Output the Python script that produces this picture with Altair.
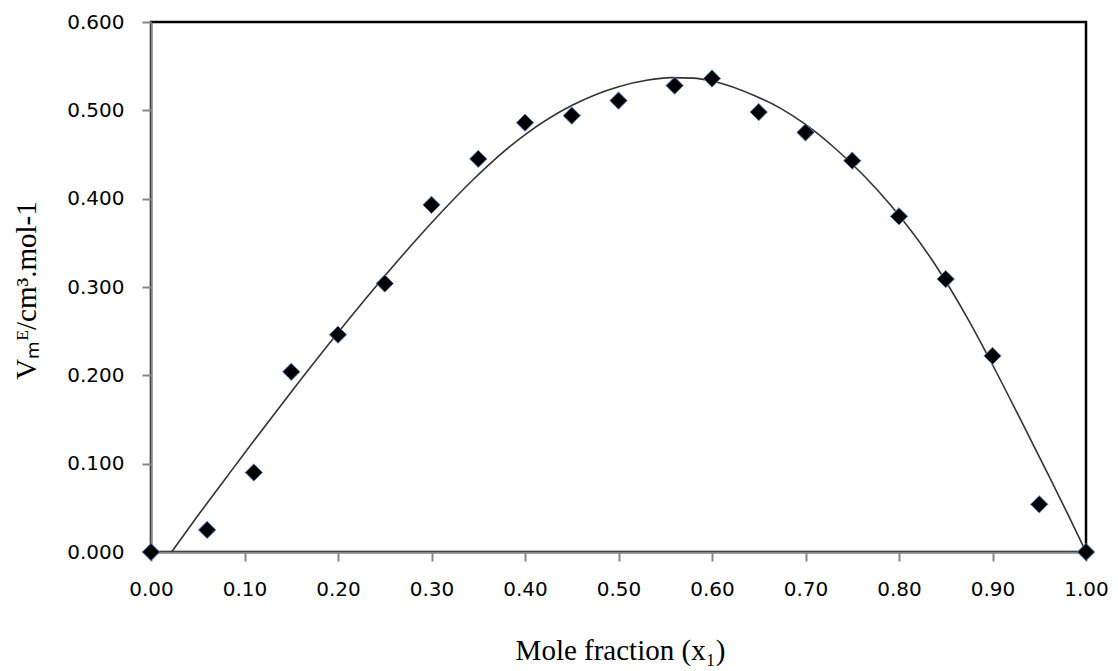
import altair as alt
import pandas as pd

# Experimental points
x_pts = [0.00, 0.06, 0.11, 0.15, 0.20, 0.25, 0.30, 0.35, 0.40, 0.45, 0.50,
         0.56, 0.60, 0.65, 0.70, 0.75, 0.80, 0.85, 0.90, 0.95, 1.00]
y_pts = [0.000, 0.025, 0.090, 0.204, 0.246, 0.304, 0.393, 0.445, 0.486, 0.494, 0.511,
         0.528, 0.536, 0.498, 0.475, 0.443, 0.380, 0.309, 0.222, 0.054, 0.000]

# Fitted curve
x_fit = [0.022, 0.050, 0.081, 0.109, 0.152, 0.202, 0.252, 0.309, 0.345, 0.372,
         0.402, 0.451, 0.501, 0.530, 0.556, 0.580, 0.601, 0.647, 0.673, 0.700,
         0.730, 0.762, 0.790, 0.837, 0.872, 0.901, 0.929, 0.958, 0.980, 1.000]
y_fit = [0.000, 0.041, 0.085, 0.1245, 0.184, 0.251, 0.315, 0.383, 0.422, 0.4485,
         0.474, 0.506, 0.527, 0.534, 0.537, 0.5365, 0.533, 0.516, 0.5025, 0.484,
         0.4585, 0.4265, 0.394, 0.328, 0.267, 0.210, 0.152, 0.091, 0.044, 0.000]

x_ticks = [0.0, 0.1, 0.2, 0.3, 0.4, 0.5, 0.6, 0.7, 0.8, 0.9, 1.0]
y_ticks = [0.0, 0.1, 0.2, 0.3, 0.4, 0.5, 0.6]

pts = pd.DataFrame({"x": x_pts, "y": y_pts})
fit = pd.DataFrame({"x": x_fit, "y": y_fit})

AX_GRAY = "#868686"
LABEL_FONT = "DejaVu Sans"

x_enc = alt.X(
    "x:Q",
    scale=alt.Scale(domain=[0, 1], nice=False, zero=False),
    axis=alt.Axis(
        values=x_ticks, format=".2f", grid=False,
        domainColor=AX_GRAY, domainWidth=2, tickColor=AX_GRAY, tickWidth=2, tickSize=9,
        labelFont=LABEL_FONT, labelFontSize=20, labelColor="#000000", labelPadding=18,
        labelFlush=False,
        title="Mole fraction (x\u2081)", titleFont="Liberation Serif", titleFontSize=29,
        titleFontWeight="normal", titleColor="#000000", titleY=84, titleX=469,
        titleAlign="center", titleBaseline="top",
    ),
)
y_enc = alt.Y(
    "y:Q",
    scale=alt.Scale(domain=[0, 0.6], nice=False, zero=False),
    axis=alt.Axis(
        values=y_ticks, format=".3f", grid=False,
        domainColor=AX_GRAY, domainWidth=2, tickColor=AX_GRAY, tickWidth=2, tickSize=9,
        labelFont=LABEL_FONT, labelFontSize=20, labelColor="#000000", labelPadding=18,
        labelFlush=False,
        title="V\u2098\u1D31/cm\u00B3.mol-1", titleFont="Liberation Serif", titleFontSize=29,
        titleFontWeight="normal", titleColor="#000000", titleX=-110, titleY=268,
        titleAngle=-90, titleAlign="center", titleBaseline="bottom",
    ),
)

line = alt.Chart(fit).mark_line(
    color="#333333", strokeWidth=1.6, interpolate="monotone"
).encode(x=x_enc, y=y_enc)

points = alt.Chart(pts).mark_point(
    shape="diamond", filled=True, fill="#000000", stroke="#5b8bc6",
    strokeWidth=1.0, size=300, opacity=1,
).encode(x="x:Q", y="y:Q")

chart = (
    alt.layer(line, points)
    .properties(
        width=935, height=530,
        autosize=alt.AutoSizeParams(type="none"),
        padding={"left": 151, "top": 22, "right": 32, "bottom": 119},
        background="#ffffff",
    )
    .configure_view(stroke="#000000", strokeWidth=2.5)
)

chart.save("out.html", embed_options={"renderer": "svg", "actions": False})
